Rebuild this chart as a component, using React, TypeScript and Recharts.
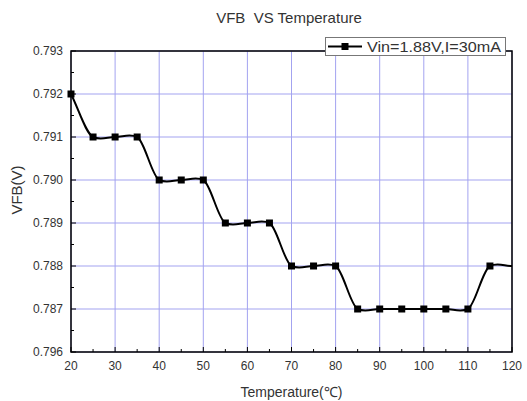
import React from "react";
import {
  LineChart,
  Line,
  XAxis,
  YAxis,
  CartesianGrid,
  ReferenceArea,
  Legend,
} from "recharts";

const temperatures = [20, 25, 30, 35, 40, 45, 50, 55, 60, 65, 70, 75, 80, 85, 90, 95, 100, 105, 110, 115, 120];
const vfbValues = [
  0.792, 0.791, 0.791, 0.791, 0.79, 0.79, 0.79, 0.789, 0.789, 0.789, 0.788, 0.788, 0.788, 0.787, 0.787,
  0.787, 0.787, 0.787, 0.787, 0.788, 0.788,
];
const xTicks = [20, 25, 30, 35, 40, 45, 50, 55, 60, 65, 70, 75, 80, 85, 90, 95, 100, 105, 110, 115, 120];
const xMajor = [20, 30, 40, 50, 60, 70, 80, 90, 100, 110, 120];
const yMajor = [0.786, 0.787, 0.788, 0.789, 0.79, 0.791, 0.792, 0.793];
const yTickLabels = ["0.796", "0.787", "0.788", "0.789", "0.790", "0.791", "0.792", "0.793"];
const yMinor = [0.7865, 0.7875, 0.7885, 0.7895, 0.7905, 0.7915, 0.7925];
const yTicks = [...yMajor, ...yMinor].sort((a, b) => a - b);
const seriesName = "Vin=1.88V,I=30mA";
const title = "VFB  VS Temperature";
const xTitle = "Temperature(℃)";
const yTitle = "VFB(V)";

const data = temperatures.map((t, i) => ({ t, v: vfbValues[i] }));

const GRID = "#a3a3f0";
const TEXT = "#333";
const FONT = "Liberation Sans, Arial, sans-serif";

// Smooth cubic Hermite spline: averaged tangents, softened next to flat runs
const smoothSpline = (context: any) => {
  let pts: number[][] = [];
  return {
    areaStart() {},
    areaEnd() {},
    lineStart() {
      pts = [];
    },
    point(x: number, y: number) {
      pts.push([+x, +y]);
    },
    lineEnd() {
      const n = pts.length;
      if (n === 0) return;
      context.moveTo(pts[0][0], pts[0][1]);
      if (n === 1) return;
      const d: number[] = [];
      for (let i = 0; i < n - 1; i++) {
        d.push((pts[i + 1][1] - pts[i][1]) / (pts[i + 1][0] - pts[i][0] || 1));
      }
      const m: number[] = [];
      for (let i = 0; i < n; i++) {
        if (i === 0) m.push(d[0]);
        else if (i === n - 1) m.push(d[n - 2] * 0.25);
        else {
          const a = d[i - 1];
          const b = d[i];
          const avg = (a + b) / 2;
          if (a === 0 && b === 0) m.push(0);
          else if (a === 0 || b === 0) m.push(avg * 0.5);
          else if (a * b < 0) m.push(0);
          else m.push(avg);
        }
      }
      for (let i = 0; i < n - 1; i++) {
        const [x0, y0] = pts[i];
        const [x1, y1] = pts[i + 1];
        const h = (x1 - x0) / 3;
        context.bezierCurveTo(x0 + h, y0 + m[i] * h, x1 - h, y1 - m[i + 1] * h, x1, y1);
      }
    },
  };
};

const XTick = (props: any) => {
  const { x, y, payload } = props;
  const major = xMajor.includes(payload.value);
  return (
    <g>
      <line x1={x} x2={x} y1={y} y2={y - (major ? 5 : 3)} stroke="#000" strokeWidth={1} />
      {major && (
        <text x={x} y={y + 18} textAnchor="middle" fontSize={12} fill={TEXT} fontFamily={FONT}>
          {payload.value}
        </text>
      )}
    </g>
  );
};

const YTick = (props: any) => {
  const { x, y, payload } = props;
  const idx = yMajor.findIndex((v) => Math.abs(v - payload.value) < 1e-7);
  const major = idx >= 0;
  return (
    <g>
      <line x1={x} x2={x + (major ? 5 : 3)} y1={y} y2={y} stroke="#000" strokeWidth={1} />
      {major && (
        <text x={x - 8} y={y + 4} textAnchor="end" fontSize={12} fill={TEXT} fontFamily={FONT}>
          {yTickLabels[idx]}
        </text>
      )}
    </g>
  );
};

const Dot = (props: any) => {
  const { cx, cy, index } = props;
  if (index === data.length - 1) return <g key={`d${index}`} />;
  return <rect key={`d${index}`} x={cx - 3.5} y={cy - 3.5} width={7} height={7} fill="#000" />;
};

const LegendBox = () => (
  <svg width={181} height={19} style={{ display: "block" }}>
    <rect x={0.5} y={0.5} width={180} height={18} fill="#fff" stroke="#777" strokeWidth={1} />
    <line x1={3} x2={37} y1={9.5} y2={9.5} stroke="#000" strokeWidth={2} />
    <rect x={16.5} y={6} width={7} height={7} fill="#000" />
    <text
      x={42}
      y={15}
      fontSize={14}
      fill={TEXT}
      fontFamily={FONT}
      textLength={134}
      lengthAdjust="spacingAndGlyphs"
    >
      {seriesName}
    </text>
  </svg>
);

export default function App() {
  return (
    <div style={{ position: "absolute", left: 0, top: 0, width: 527, height: 401, background: "#fff" }}>
      <div
        style={{
          position: "absolute",
          left: 0,
          width: 578,
          top: 9,
          textAlign: "center",
          fontFamily: FONT,
          fontSize: 15,
          color: TEXT,
          lineHeight: "18px",
          whiteSpace: "pre",
        }}
      >
        {title}
      </div>
      <LineChart width={527} height={401} data={data} margin={{ top: 32, right: 15, bottom: 0, left: 0 }}>
        <CartesianGrid
          stroke={GRID}
          strokeWidth={1}
          verticalValues={xMajor}
          horizontalValues={yMajor}
        />
        <XAxis
          dataKey="t"
          type="number"
          domain={[20, 120]}
          ticks={xTicks}
          interval={0}
          tickSize={0}
          tickMargin={0}
          tickLine={false}
          axisLine={false}
          height={49}
          tick={<XTick />}
          label={{
            value: xTitle,
            position: "insideBottom",
            offset: 4,
            fontSize: 14,
            fill: TEXT,
            fontFamily: FONT,
          }}
        />
        <YAxis
          type="number"
          domain={[0.786, 0.793]}
          allowDataOverflow
          ticks={yTicks}
          interval={0}
          tickSize={0}
          tickMargin={0}
          tickLine={false}
          axisLine={false}
          width={71}
          tick={<YTick />}
          label={{
            content: () => (
              <text
                x={16}
                y={190}
                transform="rotate(-90 16 190)"
                textAnchor="middle"
                dominantBaseline="central"
                fontSize={15}
                fill={TEXT}
                fontFamily={FONT}
              >
                {yTitle}
              </text>
            ),
          }}
        />
        <ReferenceArea
          x1={20}
          x2={120}
          y1={0.786}
          y2={0.793}
          fill="none"
          fillOpacity={0}
          stroke="#000"
          strokeWidth={1.5}
          ifOverflow="visible"
        />
        <Line
          type={smoothSpline as any}
          dataKey="v"
          name={seriesName}
          stroke="#000"
          strokeWidth={2}
          dot={<Dot />}
          activeDot={false}
          isAnimationActive={false}
        />
        <Legend
          verticalAlign="top"
          align="left"
          content={<LegendBox />}
          wrapperStyle={{ position: "absolute", left: 325, top: 37, width: 181, height: 19 }}
        />
      </LineChart>
    </div>
  );
}
